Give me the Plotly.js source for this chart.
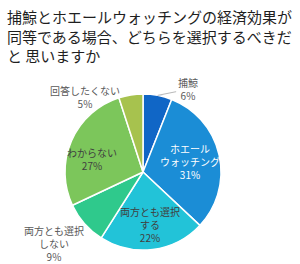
<!DOCTYPE html>
<html>
<head>
<meta charset="utf-8">
<script src="https://cdn.plot.ly/plotly-3.0.1.min.js"></script>
<style>html,body{margin:0;padding:0;background:#fff;}#chart{width:300px;height:264px;}</style>
</head>
<body>
<div id="chart"></div>
<script>
var categories = ['捕鯨', 'ホエールウォッチング', '両方とも選択する', '両方とも選択しない', 'わからない', '回答したくない'];
var displayLabels = ['捕鯨', 'ホエール<br>ウォッチング', '両方とも選択<br>する', '両方とも選択<br>しない', 'わからない', '回答したくない'];
var values = [6, 31, 22, 9, 27, 5];
var titleText = '捕鯨とホエールウォッチングの経済効果が<br>同等である場合、どちらを選択するべきだ<br>と 思いますか';

// styling / placement (not data)
var colors = ['#1066c6', '#1b8dd6', '#22c3d8', '#2fc98c', '#7cc65b', '#a7c24e'];
var textColors = ['#595959', '#ffffff', '#404040', '#595959', '#404040', '#595959'];
var labelRadius = [1.0, 0.62, 0.68, 1.0, 0.66, 1.0];
var labelShift = [[30, -6], [0, 0], [0, 0], [-31, 20], [-4, 7], [-46, 2]];
var leaderLine = [true, false, false, false, false, false];

var W = 300, H = 264;
var dom = {x: [0.2167, 0.7367], y: [0.053, 0.644]};
var cx = (dom.x[0] + dom.x[1]) / 2 * W;
var cy = H - (dom.y[0] + dom.y[1]) / 2 * H;
var R = Math.min((dom.x[1] - dom.x[0]) * W, (dom.y[1] - dom.y[0]) * H) / 2;

var trace = {
  type: 'pie',
  labels: categories,
  values: values,
  textinfo: 'none',
  sort: false,
  direction: 'clockwise',
  rotation: 0,
  marker: {colors: colors, line: {color: '#ffffff', width: 1.5}},
  hoverinfo: 'none',
  domain: dom,
  showlegend: false
};

var total = values.reduce(function (a, b) { return a + b; }, 0);
var annotations = [];
var cum = 0;
for (var i = 0; i < values.length; i++) {
  var mid = (cum + values[i] / 2) / total * 2 * Math.PI;
  cum += values[i];
  var px = cx + R * labelRadius[i] * Math.sin(mid);
  var py = cy - R * labelRadius[i] * Math.cos(mid);
  annotations.push({
    xref: 'paper', yref: 'paper',
    x: px / W, y: 1 - py / H,
    text: displayLabels[i] + '<br>' + values[i] + '%',
    showarrow: true,
    arrowhead: 0, arrowwidth: 0.8, standoff: 0, startstandoff: 0,
    arrowcolor: leaderLine[i] ? '#a6a6a6' : 'rgba(0,0,0,0)',
    ax: labelShift[i][0], ay: labelShift[i][1],
    font: {family: 'Noto Sans CJK JP', size: 10, color: textColors[i]},
    align: 'center'
  });
}

annotations.push({
  xref: 'paper', yref: 'paper',
  x: 5 / W, y: 0.985, xanchor: 'left', yanchor: 'top',
  text: titleText, showarrow: false, align: 'left',
  font: {family: 'Noto Sans CJK JP', size: 15, color: '#1f1f1f'}
});

var layout = {
  width: W, height: H,
  margin: {l: 0, r: 0, t: 0, b: 0},
  paper_bgcolor: '#ffffff',
  showlegend: false,
  annotations: annotations
};

Plotly.newPlot('chart', [trace], layout, {staticPlot: true, displayModeBar: false});
</script>
</body>
</html>
